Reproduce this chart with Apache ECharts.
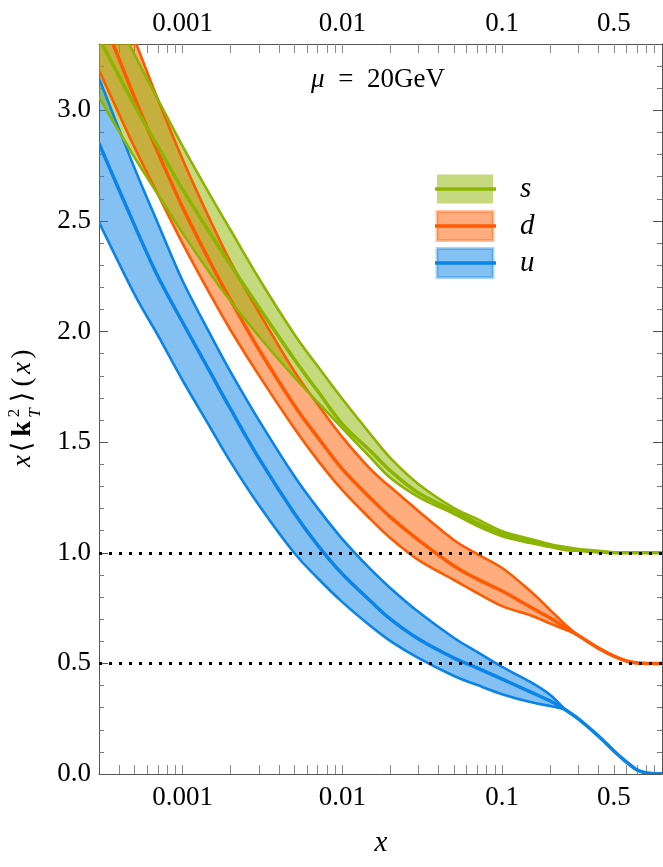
<!DOCTYPE html>
<html>
<head>
<meta charset="utf-8">
<script src="https://cdn.jsdelivr.net/npm/echarts@6/dist/echarts.min.js"></script>
<style>
html, body { margin: 0; padding: 0; background: #fff; }
#kt2 { width: 663px; height: 867px; }
</style>
</head>
<body>
<div id="kt2"></div>
<script>
// x grid (log axis) and the three curves (lower / central / upper) of each flavour
var xs = [0.0003, 0.0005, 0.0007, 0.001, 0.0015, 0.002, 0.003, 0.005, 0.007, 0.01, 0.015, 0.02, 0.03,
          0.05, 0.07, 0.1, 0.15, 0.2, 0.25, 0.3, 0.4, 0.5, 0.6, 0.7, 0.8, 1.0];

var uHi  = [3.145, 2.74, 2.49, 2.23, 1.984, 1.817, 1.600, 1.347, 1.202, 1.062, 0.926, 0.840, 0.732,
            0.615, 0.551, 0.484, 0.416, 0.357, 0.289, 0.249, 0.172, 0.104, 0.054, 0.018, 0.005, 0];
var uMid = [2.851, 2.481, 2.250, 2.042, 1.812, 1.649, 1.428, 1.179, 1.035, 0.904, 0.782, 0.700, 0.610,
            0.524, 0.479, 0.429, 0.371, 0.330, 0.289, 0.249, 0.172, 0.104, 0.054, 0.018, 0.005, 0];
var uLo  = [2.494, 2.169, 1.984, 1.780, 1.563, 1.410, 1.216, 0.999, 0.886, 0.777, 0.669, 0.601, 0.524,
            0.443, 0.402, 0.361, 0.325, 0.307, 0.289, 0.249, 0.172, 0.104, 0.054, 0.018, 0.005, 0];

var dHi  = [3.728, 3.321, 3.050, 2.779, 2.499, 2.314, 2.088, 1.821, 1.672, 1.523, 1.378, 1.297, 1.188,
            1.057, 0.994, 0.931, 0.827, 0.741, 0.673, 0.626, 0.569, 0.533, 0.511, 0.502, 0.5, 0.5];
var dMid = [3.461, 3.059, 2.811, 2.562, 2.309, 2.142, 1.920, 1.667, 1.523, 1.378, 1.247, 1.161, 1.057,
            0.940, 0.881, 0.827, 0.755, 0.705, 0.660, 0.626, 0.569, 0.533, 0.511, 0.502, 0.5, 0.5];
var dLo  = [3.181, 2.833, 2.621, 2.399, 2.164, 2.006, 1.803, 1.563, 1.419, 1.283, 1.152, 1.066, 0.967,
            0.877, 0.818, 0.759, 0.718, 0.680, 0.652, 0.626, 0.569, 0.533, 0.511, 0.502, 0.5, 0.5];

var sHi  = [3.579, 3.253, 3.050, 2.838, 2.612, 2.458, 2.241, 1.988, 1.844, 1.695, 1.536, 1.428, 1.310,
            1.202, 1.152, 1.098, 1.062, 1.039, 1.026, 1.017, 1.009, 1.002, 1.0, 1.0, 1.0, 1.0];
var sMid = [3.326, 3.023, 2.838, 2.643, 2.440, 2.300, 2.110, 1.875, 1.731, 1.582, 1.460, 1.370, 1.270,
            1.188, 1.134, 1.085, 1.053, 1.030, 1.017, 1.012, 1.004, 1.0, 1.0, 1.0, 1.0, 1.0];
var sLo  = [3.059, 2.788, 2.621, 2.445, 2.259, 2.137, 1.979, 1.794, 1.681, 1.563, 1.430, 1.338, 1.252,
            1.175, 1.121, 1.075, 1.044, 1.026, 1.012, 1.009, 1.004, 1.0, 1.0, 1.0, 1.0, 1.0];

// dotted reference levels
var refLevels = [0.5, 1.0];

// ticks
var xLabelVals = [0.001, 0.01, 0.1, 0.5];
var xTickVals = [0.0004, 0.0005, 0.0006, 0.0007, 0.0008, 0.0009,
                 0.001, 0.002, 0.003, 0.004, 0.005, 0.006, 0.007, 0.008, 0.009,
                 0.01, 0.02, 0.03, 0.04, 0.05, 0.06, 0.07, 0.08, 0.09,
                 0.1, 0.2, 0.3, 0.4, 0.5, 0.6, 0.7, 0.8, 0.9];
var yMajor = [0, 0.5, 1.0, 1.5, 2.0, 2.5, 3.0];
var yMinor = [0.1, 0.2, 0.3, 0.4, 0.6, 0.7, 0.8, 0.9, 1.1, 1.2, 1.3, 1.4, 1.6, 1.7, 1.8, 1.9,
              2.1, 2.2, 2.3, 2.4, 2.6, 2.7, 2.8, 2.9, 3.1, 3.2];

var FONT = '"Liberation Serif", "DejaVu Serif", serif';

var flavors = [
    { key: 'u', color: '#0a84e6', fill: 'rgba(10,132,230,0.5)', lo: uLo, mid: uMid, hi: uHi },
    { key: 'd', color: '#ff5a00', fill: 'rgba(255,90,0,0.5)',   lo: dLo, mid: dMid, hi: dHi },
    { key: 's', color: '#8cb400', fill: 'rgba(140,180,0,0.5)',  lo: sLo, mid: sMid, hi: sHi }
];

function clamp(v, a, b) {
    var lo = Math.min(a, b), hi = Math.max(a, b);
    return Math.max(lo, Math.min(hi, v));
}

// Catmull-Rom through pixel points, written as cubic beziers (no overshoot)
function smoothD(pts, cmd) {
    var t = 1 / 6;
    var d = cmd + pts[0][0].toFixed(2) + ' ' + pts[0][1].toFixed(2);
    for (var i = 0; i < pts.length - 1; i++) {
        var p0 = pts[i - 1] || pts[i], p1 = pts[i], p2 = pts[i + 1], p3 = pts[i + 2] || pts[i + 1];
        var c1x = clamp(p1[0] + (p2[0] - p0[0]) * t, p1[0], p2[0]);
        var c1y = clamp(p1[1] + (p2[1] - p0[1]) * t, p1[1], p2[1]);
        var c2x = clamp(p2[0] - (p3[0] - p1[0]) * t, p1[0], p2[0]);
        var c2y = clamp(p2[1] - (p3[1] - p1[1]) * t, p1[1], p2[1]);
        d += ' C' + c1x.toFixed(2) + ' ' + c1y.toFixed(2) + ' ' + c2x.toFixed(2) + ' ' + c2y.toFixed(2) +
             ' ' + p2[0].toFixed(2) + ' ' + p2[1].toFixed(2);
    }
    return d;
}

function coords(api, ys) {
    return xs.map(function (x, i) { return api.coord([x, ys[i]]); });
}

var series = [];

// bands: upper curve forward, lower curve backward
flavors.forEach(function (f) {
    series.push({
        type: 'custom', coordinateSystem: 'cartesian2d', silent: true, clip: true, z: 1,
        data: xs.map(function (x, i) { return [x, f.lo[i], f.hi[i]]; }),
        encode: { x: 0, y: [1, 2] },
        renderItem: function (params, api) {
            if (params.dataIndex !== 0) return null;
            var up = coords(api, f.hi);
            var dn = coords(api, f.lo).reverse();
            return {
                type: 'path',
                shape: { pathData: smoothD(up, 'M') + ' ' + smoothD(dn, 'L') + ' Z' },
                style: { fill: f.fill, stroke: null }
            };
        }
    });
});

// edge and central lines
flavors.forEach(function (f) {
    [f.lo, f.hi, f.mid].forEach(function (ys, j) {
        series.push({
            type: 'custom', coordinateSystem: 'cartesian2d', silent: true, clip: true, z: 2,
            data: xs.map(function (x, i) { return [x, ys[i]]; }),
            encode: { x: 0, y: 1 },
            renderItem: function (params, api) {
                if (params.dataIndex !== 0) return null;
                return {
                    type: 'path',
                    shape: { pathData: smoothD(coords(api, ys), 'M') },
                    style: { fill: null, stroke: f.color, lineWidth: j === 2 ? 3.5 : 2.6, lineJoin: 'round' }
                };
            }
        });
    });
});

// dotted levels on a plain line series so markLine can be used
series.push({
    type: 'line', data: [], silent: true, z: 3,
    markLine: {
        silent: true, symbol: 'none', animation: false,
        label: { show: false },
        lineStyle: { color: '#000', width: 3, type: [3, 7], cap: 'butt' },
        emphasis: { disabled: true },
        data: refLevels.map(function (v) { return { yAxis: v }; })
    }
});

function fmtX(v) { return String(+(+v).toPrecision(2)); }

function xAxisDef(pos) {
    return {
        type: 'log', logBase: 10, min: 0.0003, max: 1, position: pos,
        axisLine: { show: true, onZero: false, lineStyle: { color: '#555', width: 1 } },
        axisTick: { show: true, inside: true, length: 9, customValues: xTickVals,
                    lineStyle: { color: '#8a8a8a', width: 1 } },
        axisLabel: { show: true, customValues: xLabelVals, formatter: fmtX,
                     fontFamily: FONT, fontSize: 27, color: '#000', margin: pos === 'top' ? 7 : 10 },
        splitLine: { show: false }, minorTick: { show: false }
    };
}
function yAxisDef(pos, major) {
    return {
        type: 'value', min: 0, max: 3.3, position: pos,
        axisLine: { show: major, onZero: false, lineStyle: { color: '#555', width: 1 } },
        axisTick: { show: true, inside: true, length: major ? 9 : 5,
                    customValues: major ? yMajor : yMinor,
                    lineStyle: { color: major ? '#555' : '#777', width: 1 } },
        axisLabel: { show: major && pos === 'left', customValues: yMajor,
                     formatter: function (v) { return (+v).toFixed(1); },
                     fontFamily: FONT, fontSize: 27, color: '#000', margin: 8 },
        splitLine: { show: false }
    };
}

function txt(x, y, text, size, extra) {
    var st = { text: text, x: 0, y: 0, fontSize: size, fontFamily: FONT, fill: '#000',
               align: 'center', textAlign: 'center', verticalAlign: 'middle', textVerticalAlign: 'middle' };
    for (var k in extra) st[k] = extra[k];
    return { type: 'text', x: x, y: y, silent: true, style: st };
}

// legend made of patches
var legendRows = [
    { label: 's', color: '#8cb400', y: 189, border: false },
    { label: 'd', color: '#ff5a00', y: 226, border: true },
    { label: 'u', color: '#0a84e6', y: 263, border: true }
];
var legendEls = [];
legendRows.forEach(function (r) {
    legendEls.push({
        type: 'rect', silent: true,
        shape: { x: 437, y: r.y - 14.5, width: 56, height: 29 },
        style: { fill: r.color, opacity: 1, fillOpacity: 0.5,
                 stroke: r.border ? r.color : null, strokeOpacity: 0.35, lineWidth: 3 }
    });
    legendEls.push({
        type: 'line', silent: true,
        shape: { x1: 435, y1: r.y, x2: 496, y2: r.y },
        style: { stroke: r.color, lineWidth: 3.5 }
    });
    legendEls.push(txt(520, r.y, r.label, 29, { align: 'left', textAlign: 'left', fontStyle: 'italic' }));
});

// y axis title, rotated
var yTitle = {
    type: 'group', x: 33, y: 408, rotation: Math.PI / 2, silent: true,
    children: [
        txt(-53, -10, 'x', 27, { fontStyle: 'italic' }),
        txt(-39, -10, '\u27E8', 27, {}),
        txt(-21, -10, 'k', 28, { fontWeight: 'bold' }),
        txt(-5, -18, '2', 17, {}),
        txt(-5, 3, 'T', 17, { fontStyle: 'italic' }),
        txt(11, -10, '\u27E9', 27, {}),
        txt(26, -10, '(', 27, {}),
        txt(40, -10, 'x', 27, { fontStyle: 'italic' }),
        txt(54, -10, ')', 27, {})
    ]
};

var option = {
    animation: false,
    backgroundColor: '#fff',
    grid: { left: 99, right: 1, top: 44, bottom: 93, containLabel: false },
    xAxis: [xAxisDef('bottom'), xAxisDef('top')],
    yAxis: [yAxisDef('left', true), yAxisDef('left', false), yAxisDef('right', true), yAxisDef('right', false)],
    series: series,
    graphic: [
        txt(378, 80, '{i|\u03BC}\u2002=\u200220GeV', 27,
            { rich: { i: { fontStyle: 'italic', fontSize: 27, fontFamily: FONT } } }),
        txt(381, 843, 'x', 29, { fontStyle: 'italic' }),
        yTitle
    ].concat(legendEls)
};

var myChart = echarts.init(document.getElementById('kt2'));
myChart.setOption(option, true);
</script>
</body>
</html>
